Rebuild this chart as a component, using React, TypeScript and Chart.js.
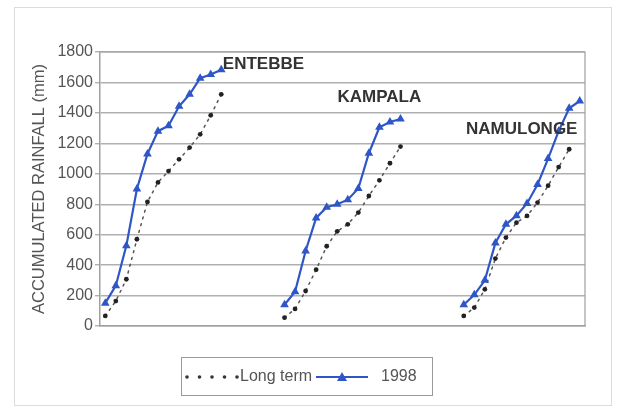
import React, { useEffect, useRef } from "react";
import { Chart, registerables } from "chart.js";

Chart.register(...registerables);

const FONT = "'Liberation Sans', Arial, sans-serif";

const stations = ["ENTEBBE", "KAMPALA", "NAMULONGE"];
const gapLength = 5;
const yTicks = [0, 200, 400, 600, 800, 1000, 1200, 1400, 1600, 1800];

const entebbeLongTerm = [66, 164, 307, 570, 815, 943, 1018, 1095, 1172, 1259, 1384, 1522];
const entebbe1998 = [150, 265, 528, 900, 1130, 1280, 1316, 1443, 1522, 1628, 1652, 1684];
const kampalaLongTerm = [55, 112, 230, 370, 524, 622, 668, 745, 854, 957, 1069, 1179];
const kampala1998 = [140, 225, 493, 710, 780, 800, 830, 903, 1135, 1305, 1340, 1360];
const namulongeLongTerm = [66, 121, 241, 443, 581, 679, 723, 811, 922, 1044, 1161, null];
const namulonge1998 = [140, 205, 300, 545, 668, 725, 805, 930, 1100, 1280, 1430, 1478];

const seriesNames = ["Long term", "1998"];

const gap = Array(gapLength).fill(null);
const longTerm = [...entebbeLongTerm, ...gap, ...kampalaLongTerm, ...gap, ...namulongeLongTerm];
const rain1998 = [...entebbe1998, ...gap, ...kampala1998, ...gap, ...namulonge1998];
const labels = longTerm.map(() => "");

const BLUE = "#2f56c6";

const decorPlugin = {
  id: "decor",
  beforeDraw(chart: any) {
    const ctx = chart.ctx;
    ctx.save();
    ctx.strokeStyle = "#dcdcdc";
    ctx.lineWidth = 1;
    ctx.strokeRect(14.5, 7.5, 597, 398);
    ctx.restore();
  },
  afterDraw(chart: any) {
    const ctx = chart.ctx;
    const x = chart.scales.x;
    const y = chart.scales.y;
    const a = chart.chartArea;
    ctx.save();
    ctx.strokeStyle = "#a0a0a0";
    ctx.lineWidth = 1.2;
    ctx.beginPath();
    ctx.moveTo(a.left, a.top);
    ctx.lineTo(a.right, a.top);
    ctx.lineTo(a.right, a.bottom);
    ctx.stroke();

    ctx.fillStyle = "#333";
    ctx.font = `bold 17px ${FONT}`;
    ctx.textAlign = "center";
    ctx.textBaseline = "middle";
    const spots = [
      [15, 1720],
      [26, 1500],
      [39.5, 1290],
    ];
    stations.forEach((s, i) => {
      ctx.fillText(s, x.getPixelForValue(spots[i][0]), y.getPixelForValue(spots[i][1]));
    });

    const lx = 181, ly = 357, lw = 251, lh = 38;
    ctx.strokeStyle = "#9a9a9a";
    ctx.lineWidth = 1;
    ctx.strokeRect(lx + 0.5, ly + 0.5, lw, lh);
    const cy = ly + lh / 2 + 1;
    ctx.fillStyle = "#333";
    for (let i = 0; i < 5; i++) {
      ctx.beginPath();
      ctx.arc(187 + i * 12.5, cy, 1.8, 0, Math.PI * 2);
      ctx.fill();
    }
    ctx.font = `16px ${FONT}`;
    ctx.fillStyle = "#555";
    ctx.textAlign = "left";
    ctx.fillText(seriesNames[0], 240, cy);
    ctx.strokeStyle = BLUE;
    ctx.lineWidth = 2;
    ctx.beginPath();
    ctx.moveTo(316, cy);
    ctx.lineTo(368, cy);
    ctx.stroke();
    ctx.fillStyle = BLUE;
    ctx.beginPath();
    ctx.moveTo(342, cy - 5);
    ctx.lineTo(347, cy + 4);
    ctx.lineTo(337, cy + 4);
    ctx.closePath();
    ctx.fill();
    ctx.fillStyle = "#555";
    ctx.fillText(seriesNames[1], 381, cy);
    ctx.restore();
  },
};

export default function App() {
  const ref = useRef<HTMLCanvasElement>(null);
  useEffect(() => {
    document.body.style.margin = "0";
    const chart = new Chart(ref.current as HTMLCanvasElement, {
      type: "line",
      data: {
        labels,
        datasets: [
          {
            label: seriesNames[0],
            data: longTerm,
            borderColor: "#555",
            borderWidth: 1.5,
            borderDash: [2, 5],
            borderCapStyle: "round",
            pointRadius: 2.4,
            pointBackgroundColor: "#222",
            pointBorderColor: "#222",
            pointBorderWidth: 0,
            spanGaps: false,
            tension: 0,
          },
          {
            label: seriesNames[1],
            data: rain1998,
            borderColor: BLUE,
            borderWidth: 2.2,
            pointStyle: "triangle",
            pointRadius: 5,
            pointBackgroundColor: BLUE,
            pointBorderColor: BLUE,
            pointBorderWidth: 0,
            spanGaps: false,
            tension: 0,
          },
        ],
      },
      options: {
        animation: false,
        responsive: false,
        layout: { padding: { left: 30, right: 35, top: 52, bottom: 78 } },
        plugins: { legend: { display: false }, tooltip: { enabled: false } },
        scales: {
          x: {
            type: "category",
            offset: true,
            grid: { display: false },
            ticks: { display: false },
            border: { display: true, color: "#a0a0a0", width: 1.5 },
          },
          y: {
            min: 0,
            max: 1800,
            afterFit: (s: any) => {
              s.width = 70;
            },
            afterBuildTicks: (s: any) => {
              s.ticks = yTicks.map((v) => ({ value: v }));
            },
            ticks: {
              color: "#555",
              font: { family: FONT, size: 16 },
              padding: 2,
              callback: (v: any) => String(v),
            },
            grid: { color: "#b0b0b0", lineWidth: 1.4, tickLength: 5 },
            border: { display: true, color: "#a0a0a0", width: 1.5 },
            title: {
              display: true,
              text: "ACCUMULATED RAINFALL (mm)",
              color: "#555",
              font: { family: FONT, size: 16.5 },
              padding: { top: 0, bottom: 0 },
            },
          },
        },
      },
      plugins: [decorPlugin],
    });
    return () => chart.destroy();
  }, []);
  return <canvas ref={ref} width={620} height={412} style={{ display: "block" }} />;
}
